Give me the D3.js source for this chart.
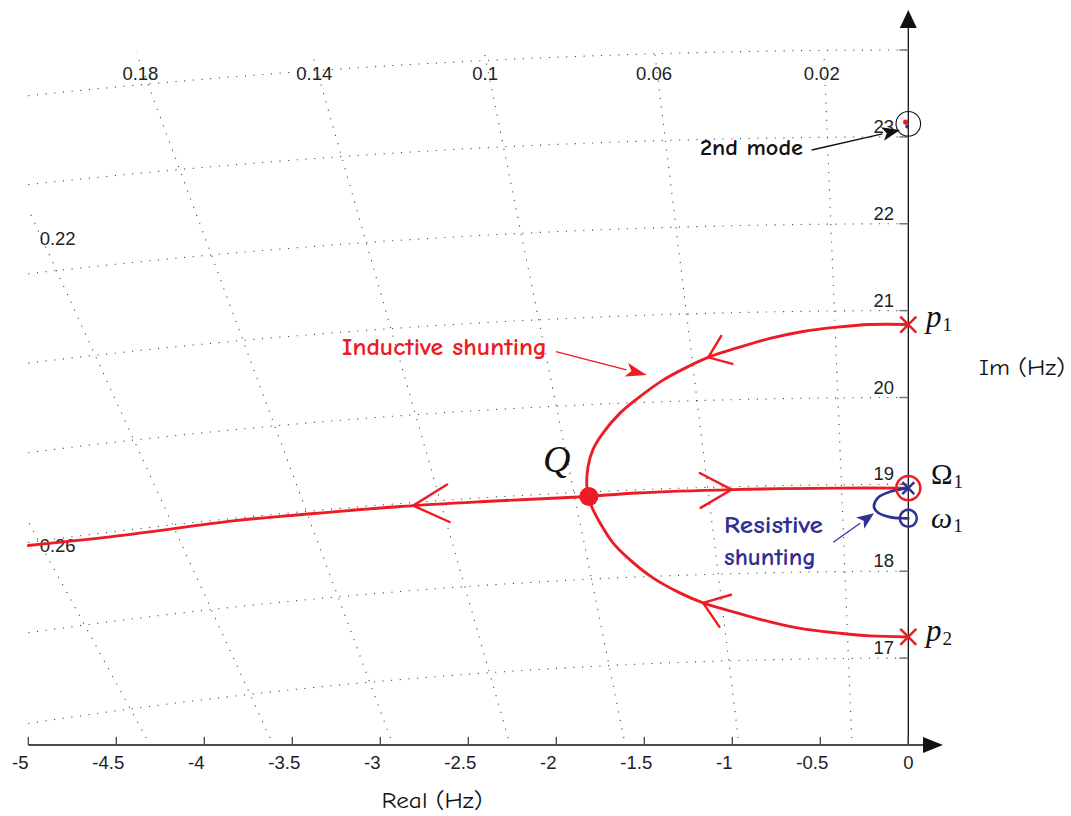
<!DOCTYPE html>
<html><head><meta charset="utf-8">
<script src="https://cdn.jsdelivr.net/npm/d3@7"></script>
<style>body{margin:0;background:#fff}</style>
</head><body><svg id="c" width="1071" height="816"></svg>
<script>
// ---------- data ----------
const realTicks = [-5,-4.5,-4,-3.5,-3,-2.5,-2,-1.5,-1,-0.5,0];
const imTicks = [17,18,19,20,21,22,23,24];
const imTickLabels = [17,18,19,20,21,22,23];
const zetaValues = [0.02,0.06,0.1,0.14,0.18,0.22,0.26];
const wnValues = [17,18,19,20,21,22,23,24];

// inductive shunting locus: upper branch p1 -> Q
const upperRe = [0,-0.218,-0.405,-0.598,-0.786,-0.973,-1.127,-1.257,-1.394,-1.525,-1.638,-1.735,-1.792,-1.820,-1.826,-1.815];
const upperIm = [20.84,20.84,20.81,20.76,20.68,20.57,20.47,20.35,20.20,20.01,19.82,19.59,19.40,19.20,18.97,18.86];
// lower branch p2 -> Q
const lowerRe = [0,-0.218,-0.405,-0.598,-0.786,-0.973,-1.166,-1.298,-1.451,-1.581,-1.678,-1.752,-1.799,-1.815];
const lowerIm = [17.244,17.256,17.29,17.336,17.417,17.521,17.636,17.751,17.924,18.131,18.327,18.558,18.745,18.86];
// Q -> Omega1
const rightRe = [-1.815,-1.542,-0.996,-0.405,0];
const rightIm = [18.86,18.90,18.94,18.957,18.957];
// Q -> left
const leftRe = [-1.815,-2.434,-2.888,-3.456,-3.837,-4.441,-5.0];
const leftIm = [18.86,18.80,18.745,18.65,18.58,18.419,18.296];
// resistive shunting locus: Omega1 -> omega1
const blueRe = [0,-0.1,-0.173,-0.195,-0.173,-0.104,-0.03,0];
const blueIm = [18.957,18.918,18.845,18.745,18.676,18.623,18.61,18.61];

const p1 = [0,20.84], p2 = [0,17.244], Omega1 = [0,18.957], omega1 = [0,18.61], Q = [-1.815,18.86];
const mode2 = [0,23.15], mode2Red = [-0.015,23.17], mode2Blue = [-0.006,23.12];

// ---------- setup ----------
const RED = "#ed1c24", BLUE = "#2e3192";
const svg = d3.select("#c");
svg.append("rect").attr("width",1071).attr("height",816).attr("fill","#fff");
const x = d3.scaleLinear().domain([-5,0]).range([28.3,908.3]);
const y = d3.scaleLinear().domain([16,24]).range([745,50]);
const comic = '"Comic Sans MS","Comic Neue","Lato",sans-serif';

// ---------- grid ----------
const gridG = svg.append("g").attr("fill","none").attr("stroke","#444")
  .attr("stroke-width",1.1).attr("stroke-dasharray","1.1 7.6");
const lineXY = d3.line().x(d=>x(d[0])).y(d=>y(d[1]));
wnValues.forEach(wn=>{
  const pts = d3.range(0,201).map(i=>{const re=-5+5*i/200; return [re, Math.sqrt(wn*wn-re*re)];});
  gridG.append("path").attr("d", lineXY(pts));
});
zetaValues.forEach(z=>{
  const k = z/Math.sqrt(1-z*z);
  let imLo = 16.08, imHi = 23.97;
  imHi = Math.min(imHi, 5/k);
  gridG.append("path").attr("d", lineXY([[-k*imLo,imLo],[-k*imHi,imHi]]));
  // label
  const ref = -k*23.75;
  const lab = svg.append("text").attr("font-family","'Liberation Sans',Arial,sans-serif")
    .attr("font-size",18.5).attr("fill","#222").text(String(z));
  if (ref > -4.8) {
    lab.attr("x", x(ref)-3).attr("y", 79.5).attr("text-anchor","middle");
  } else {
    const re = -4.907;
    lab.attr("x", x(re)-5).attr("y", y(-re/k)).attr("text-anchor","start");
  }
});

// ---------- axes ----------
const axG = svg.append("g");
axG.append("line").attr("x1",x(-5)).attr("x2",924).attr("y1",745).attr("y2",745).attr("stroke","#111").attr("stroke-width",1.6);
axG.append("path").attr("d","M923,737 L943,745 L923,753 Z").attr("fill","#111");
axG.append("line").attr("x1",x(0)).attr("x2",x(0)).attr("y1",745).attr("y2",27).attr("stroke","#111").attr("stroke-width",1.3);
axG.append("path").attr("d",`M${x(0)-8.5},28 L${x(0)},10 L${x(0)+8.5},28 Z`).attr("fill","#111");
realTicks.forEach(t=>{
  axG.append("line").attr("x1",x(t)).attr("x2",x(t)).attr("y1",745).attr("y2",737).attr("stroke","#444").attr("stroke-width",1.3);
  axG.append("text").attr("x", x(t) + (t<0?-8:0)).attr("y",768.5).attr("text-anchor","middle")
    .attr("font-family","'Liberation Sans',Arial,sans-serif").attr("font-size",18.5).attr("fill","#222").text(String(t));
});
imTicks.forEach(t=>{
  axG.append("line").attr("x1",x(0)-9).attr("x2",x(0)).attr("y1",y(t)).attr("y2",y(t)).attr("stroke","#777").attr("stroke-width",1.5);
});
imTickLabels.forEach(t=>{
  axG.append("text").attr("x",894).attr("y",y(t)-4).attr("text-anchor","end")
    .attr("font-family","'Liberation Sans',Arial,sans-serif").attr("font-size",18.5).attr("fill","#222").text(String(t));
});
svg.append("text").attr("x",1022).attr("y",375).attr("text-anchor","middle").attr("font-family",comic)
  .attr("font-size",22).attr("fill","#111").attr("textLength",86).attr("lengthAdjust","spacingAndGlyphs").text("Im (Hz)");
svg.append("text").attr("x",432).attr("y",808).attr("text-anchor","middle").attr("font-family",comic)
  .attr("font-size",23).attr("fill","#111").attr("textLength",101).attr("lengthAdjust","spacingAndGlyphs").text("Real (Hz)");

// ---------- loci ----------
const zip = (a,b)=>a.map((v,i)=>[v,b[i]]);
const curve = d3.line().x(d=>x(d[0])).y(d=>y(d[1])).curve(d3.curveCatmullRom.alpha(0.5));
const locG = svg.append("g").attr("fill","none").attr("stroke-linecap","round").attr("stroke-linejoin","round");
function branch(re, im, color, w){
  return locG.append("path").attr("d", curve(zip(re,im))).attr("stroke",color).attr("stroke-width",w);
}
const upP = branch(upperRe, upperIm, RED, 2.9);
const loP = branch(lowerRe, lowerIm, RED, 2.9);
const riP = branch(rightRe, rightIm, RED, 2.9);
const leP = branch(leftRe, leftIm, RED, 2.9);
branch(blueRe, blueIm, BLUE, 2.7);

// chevrons along branches, placed at a given Real value
function chevron(pathSel, re, len, angDeg){
  const node = pathSel.node(), L = node.getTotalLength();
  const tx = x(re); let best = 0, bd = 1e9;
  for (let l=0; l<=L; l+=0.5){ const p=node.getPointAtLength(l); const d=Math.abs(p.x-tx); if(d<bd){bd=d;best=l;} }
  const tip = node.getPointAtLength(best);
  const a = node.getPointAtLength(Math.max(0,best-3)), b = node.getPointAtLength(Math.min(L,best+3));
  const ang = Math.atan2(a.y-b.y, a.x-b.x); // backwards direction
  const r = angDeg*Math.PI/180;
  const p1x = tip.x+len*Math.cos(ang+r), p1y = tip.y+len*Math.sin(ang+r);
  const p2x = tip.x+len*Math.cos(ang-r), p2y = tip.y+len*Math.sin(ang-r);
  svg.append("path").attr("d",`M${p1x},${p1y} L${tip.x},${tip.y} L${p2x},${p2y}`)
    .attr("fill","none").attr("stroke",RED).attr("stroke-width",2.4).attr("stroke-linecap","round");
}
chevron(upP, -1.136, 25, 37);
chevron(loP, -1.165, 29, 36);
chevron(leP, -2.814, 40, 28);
chevron(riP, -1.003, 36, 29);

// ---------- markers ----------
function cross(pt, h, color, w){
  const cx=x(pt[0]), cy=y(pt[1]);
  svg.append("path").attr("d",`M${cx-h},${cy-h}L${cx+h},${cy+h}M${cx-h},${cy+h}L${cx+h},${cy-h}`)
    .attr("stroke",color).attr("stroke-width",w).attr("fill","none");
}
cross(p1, 8, RED, 2.5);
cross(p2, 8, RED, 2.5);
svg.append("circle").attr("cx",x(Omega1[0])).attr("cy",y(Omega1[1])).attr("r",12).attr("fill","none").attr("stroke",RED).attr("stroke-width",2.5);
cross(Omega1, 6, BLUE, 2.5);
svg.append("circle").attr("cx",x(omega1[0])).attr("cy",y(omega1[1])).attr("r",8.5).attr("fill","none").attr("stroke",BLUE).attr("stroke-width",2.5);
svg.append("circle").attr("cx",x(Q[0])).attr("cy",y(Q[1])).attr("r",9.5).attr("fill",RED);
svg.append("circle").attr("cx",x(mode2[0])).attr("cy",y(mode2[1])).attr("r",12.3).attr("fill","none").attr("stroke","#111").attr("stroke-width",1.1);
svg.append("circle").attr("cx",x(mode2Red[0])).attr("cy",y(mode2Red[1])).attr("r",2.6).attr("fill",RED);
svg.append("circle").attr("cx",x(mode2Blue[0])).attr("cy",y(mode2Blue[1])).attr("r",2).attr("fill",BLUE);

// ---------- math labels ----------
const serif = "'Liberation Serif','Times New Roman',serif";
function mathLabel(xp, yp, main, sub, italic, size){
  const t = svg.append("text").attr("x",xp).attr("y",yp).attr("font-family",serif).attr("fill","#111");
  t.append("tspan").attr("font-size",size).attr("font-style",italic?"italic":"normal").text(main);
  t.append("tspan").attr("font-size",19).attr("dy",4).attr("dx",1).text(sub);
}
mathLabel(926, 327, "p", "1", true, 31);
mathLabel(926, 641, "p", "2", true, 31);
mathLabel(931, 484, "\u03A9", "1", false, 29);
mathLabel(931, 528, "\u03C9", "1", true, 30);
svg.append("text").attr("x",543).attr("y",472).attr("font-family",serif).attr("font-style","italic")
  .attr("font-size",38).attr("fill","#111").text("Q");

// ---------- annotations ----------
function arrow(x1,y1,x2,y2,color,w,hl,hw){
  const a = Math.atan2(y2-y1,x2-x1);
  const bx = x2-hl*Math.cos(a), by = y2-hl*Math.sin(a);
  svg.append("line").attr("x1",x1).attr("y1",y1).attr("x2",bx).attr("y2",by).attr("stroke",color).attr("stroke-width",w);
  const nx = -Math.sin(a)*hw, ny = Math.cos(a)*hw;
  svg.append("path").attr("d",`M${x2},${y2}L${bx+nx},${by+ny}L${bx+hl*0.25*Math.cos(a)},${by+hl*0.25*Math.sin(a)}L${bx-nx},${by-ny}Z`).attr("fill",color);
}
svg.append("text").attr("x",342).attr("y",355).attr("font-family",comic).attr("font-weight","bold")
  .attr("font-size",25).attr("fill",RED).attr("textLength",205).attr("lengthAdjust","spacingAndGlyphs").text("Inductive shunting");
arrow(556,351.7,646.7,375,RED,1.3,21,7);
svg.append("text").attr("x",724).attr("y",532.5).attr("font-family",comic).attr("font-weight","bold")
  .attr("font-size",25).attr("fill",BLUE).attr("textLength",99).attr("lengthAdjust","spacingAndGlyphs").text("Resistive");
svg.append("text").attr("x",724).attr("y",565).attr("font-family",comic).attr("font-weight","bold")
  .attr("font-size",25).attr("fill",BLUE).attr("textLength",92).attr("lengthAdjust","spacingAndGlyphs").text("shunting");
arrow(833.3,542.3,874,513.3,BLUE,1.2,17,7);
svg.append("text").attr("x",700).attr("y",155).attr("font-family",comic).attr("font-weight","bold")
  .attr("font-size",23).attr("fill","#111").attr("textLength",103).attr("lengthAdjust","spacingAndGlyphs").text("2nd mode");
arrow(811.7,150,900,130,"#111",1.3,18,7);
</script></body></html>
